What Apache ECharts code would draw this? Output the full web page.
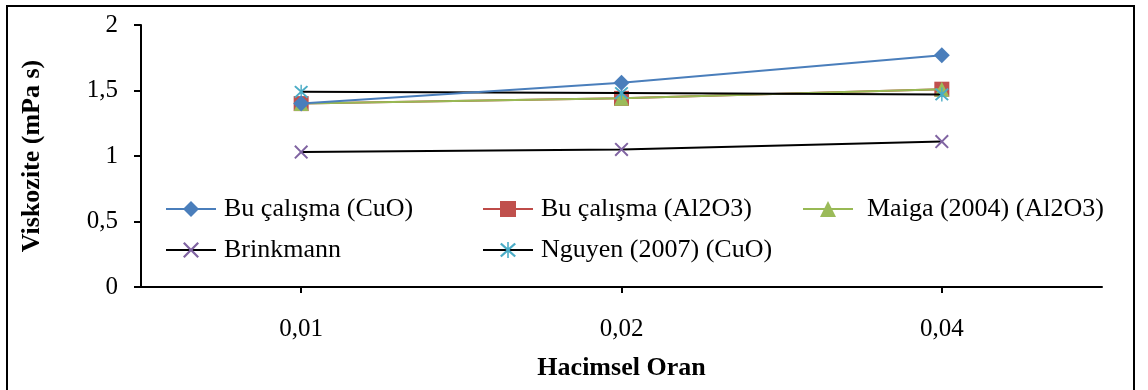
<!DOCTYPE html>
<html>
<head>
<meta charset="utf-8">
<script src="https://cdn.jsdelivr.net/npm/echarts@6/dist/echarts.min.js"></script>
<style>
html,body{margin:0;padding:0;background:#fff;}
#frame{position:absolute;left:6px;top:5px;width:1129px;height:390px;border:2px solid #000;box-sizing:border-box;}
#chart{position:absolute;left:0;top:0;width:1148px;height:390px;}
</style>
</head>
<body>
<div id="frame"></div>
<div id="chart"></div>
<script>
const categories = ['0,01', '0,02', '0,04'];
const yTicks = [0, 0.5, 1, 1.5, 2];
const seriesNames = ['Bu çalışma (CuO)', 'Bu çalışma (Al2O3)', 'Maiga (2004) (Al2O3)', 'Brinkmann', 'Nguyen (2007) (CuO)'];
const cuoValues = [1.40, 1.56, 1.77];
const al2o3Values = [1.40, 1.44, 1.51];
const maigaValues = [1.40, 1.44, 1.51];
const brinkmannValues = [1.03, 1.05, 1.11];
const nguyenValues = [1.49, 1.48, 1.47];

const xPath = 'path://M0,2 L2,0 L10,8 L18,0 L20,2 L12,10 L20,18 L18,20 L10,12 L2,20 L0,18 L8,10 Z';
const starPath = 'path://M0,2 L2,0 L10,8 L18,0 L20,2 L12,10 L20,18 L18,20 L10,12 L2,20 L0,18 L8,10 Z M9,-1 L11,-1 L11,21 L9,21 Z';

const serif = 'Liberation Serif, Times New Roman, serif';
const legendText = {fontFamily: serif, fontSize: 26, color: '#000', padding: [0, 0, 0, 3]};
const legendBase = {orient: 'vertical', top: 191, itemGap: 15, itemWidth: 50, itemHeight: 20,
  textStyle: legendText, backgroundColor: '#fff'};

const chart = echarts.init(document.getElementById('chart'));
chart.setOption({
  animation: false,
  backgroundColor: 'transparent',
  grid: {left: 141, right: 46, top: 25, bottom: 103},
  legend: [
    Object.assign({}, legendBase, {left: 160, data: [seriesNames[0], seriesNames[3]]}),
    Object.assign({}, legendBase, {left: 477, data: [seriesNames[1], seriesNames[4]]}),
    Object.assign({}, legendBase, {left: 797, data: [seriesNames[2]], textStyle: Object.assign({}, legendText, {padding: [0, 0, 0, 9]})})
  ],
  xAxis: {
    type: 'category',
    data: categories,
    boundaryGap: true,
    name: 'Hacimsel Oran',
    nameLocation: 'middle',
    nameGap: 68,
    nameTextStyle: {fontFamily: serif, fontSize: 26, fontWeight: 'bold', color: '#000'},
    axisLine: {lineStyle: {color: '#000', width: 2}},
    axisTick: {show: true, alignWithLabel: true, length: 6, lineStyle: {color: '#000', width: 2}},
    axisLabel: {fontFamily: serif, fontSize: 25, color: '#000', margin: 30},
    splitLine: {show: false}
  },
  yAxis: {
    type: 'value',
    min: yTicks[0],
    max: yTicks[yTicks.length - 1],
    interval: 0.5,
    name: 'Viskozite (mPa s)',
    nameLocation: 'middle',
    nameGap: 96,
    nameTextStyle: {fontFamily: serif, fontSize: 26, fontWeight: 'bold', color: '#000'},
    axisLine: {show: true, lineStyle: {color: '#000', width: 2}},
    axisTick: {show: true, length: 7, lineStyle: {color: '#000', width: 2}},
    axisLabel: {fontFamily: serif, fontSize: 25, color: '#000', margin: 23,
      formatter: v => String(v).replace('.', ',')},
    splitLine: {show: false}
  },
  series: [
    {name: seriesNames[0], type: 'line', data: cuoValues, symbol: 'diamond', symbolSize: 16,
     lineStyle: {color: '#4A7EBB', width: 2}, itemStyle: {color: '#4A7EBB'}, z: 5},
    {name: seriesNames[1], type: 'line', data: al2o3Values, symbol: 'rect', symbolSize: 15,
     lineStyle: {color: '#BE4B48', width: 2}, itemStyle: {color: '#C0504D'}, z: 2},
    {name: seriesNames[2], type: 'line', data: maigaValues, symbol: 'triangle', symbolSize: 15,
     lineStyle: {color: '#98B954', width: 2}, itemStyle: {color: '#9BBB59'}, z: 3},
    {name: seriesNames[3], type: 'line', data: brinkmannValues, symbol: xPath, symbolSize: 14,
     lineStyle: {color: '#000', width: 2}, itemStyle: {color: '#8064A2'}, z: 4},
    {name: seriesNames[4], type: 'line', data: nguyenValues, symbol: starPath, symbolSize: 14,
     lineStyle: {color: '#000', width: 2}, itemStyle: {color: '#4BACC6'}, z: 4}
  ]
});
</script>
</body>
</html>
